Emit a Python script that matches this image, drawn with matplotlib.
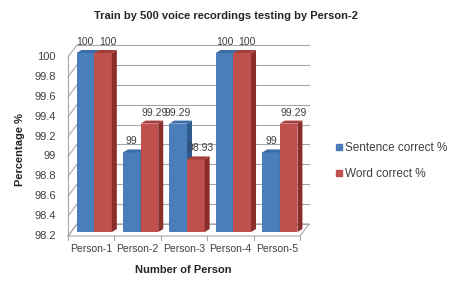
import matplotlib
matplotlib.use("Agg")
import matplotlib.pyplot as plt
from matplotlib.patches import Polygon
from matplotlib.lines import Line2D
import numpy as np

categories = ["Person-1", "Person-2", "Person-3", "Person-4", "Person-5"]
sentence = [100, 99, 99.29, 100, 99]
word = [100, 99.29, 98.93, 100, 99.29]
series_names = ["Sentence correct %", "Word correct %"]
yticks = [98.2, 98.4, 98.6, 98.8, 99, 99.2, 99.4, 99.6, 99.8, 100]
ytick_labels = ["98.2", "98.4", "98.6", "98.8", "99", "99.2", "99.4", "99.6", "99.8", "100"]
title = "Train by 500 voice recordings testing by Person-2"
xlabel = "Number of Person"
ylabel = "Percentage %"

FONT = ["Liberation Sans", "DejaVu Sans"]
plt.rcParams["font.family"] = FONT

W, H = 451, 285
fig = plt.figure(figsize=(W / 100, H / 100), dpi=100)
ax_l, ax_r, ax_t, ax_b = 68, 300, 53, 232  # pixel box of the bar scale
ax = fig.add_axes([ax_l / W, 1 - ax_b / H, (ax_r - ax_l) / W, (ax_b - ax_t) / H])
x0, x1 = -0.5, 4.5
y0, y1 = 98.2, 100
ax.set_xlim(x0, x1)
ax.set_ylim(y0, y1)
ax.axis("off")

pxx = (ax_r - ax_l) / (x1 - x0)
pxy = (ax_b - ax_t) / (y1 - y0)


def off(x, y, dx, dy):
    return (x + dx / pxx, y + dy / pxy)


grid_c = "#a6a6a6"
front = (0, -4)
back = (9, 8)

floor = Polygon([off(x0, y0, *front), off(x1, y0, *front), off(x1, y0, *back), off(x0, y0, *back)],
                closed=True, facecolor="white", edgecolor=grid_c, lw=0.8, clip_on=False, zorder=1)
ax.add_patch(floor)

for v in yticks:
    a = off(x0, v, *back)
    b = off(x1, v, *back)
    ax.plot([a[0], b[0]], [a[1], b[1]], color=grid_c, lw=0.8, clip_on=False, zorder=1)
    f = off(x0, v, *front)
    ax.plot([f[0], a[0]], [f[1], a[1]], color=grid_c, lw=0.8, clip_on=False, zorder=1)
fa = off(x0, y0, *front)
fb = off(x0, y1, *front)
ax.plot([fa[0], fb[0]], [fa[1], fb[1]], color=grid_c, lw=0.8, clip_on=False, zorder=1)

for k in range(len(categories) + 1):
    p = off(x0 + k, y0, *front)
    q = off(x0 + k, y0, 0, -8)
    ax.plot([p[0], q[0]], [p[1], q[1]], color=grid_c, lw=0.8, clip_on=False, zorder=1)

for v, lab in zip(yticks, ytick_labels):
    p = off(x0, v, -12, -4)
    ax.text(p[0], p[1], lab, ha="right", va="center", fontsize=8, color="#404040")

for i, lab in enumerate(categories):
    p = off(i, y0, 0, -12)
    ax.text(p[0], p[1], lab, ha="center", va="top", fontsize=7.5, color="#404040")

bw = 0.38
shift = 3 / pxx
ddx, ddy = 5, 3
colors = [("#4A7EBB", "#2E5A8E", "#3A6CA8"), ("#C0504D", "#8A2E2C", "#A43E3B")]
label_dx = [0, 5]
for i in range(len(categories)):
    for s, (vals, (cf, cs, ct)) in enumerate(zip([sentence, word], colors)):
        left = i + shift + (s - 1) * bw
        h = vals[i]
        ax.bar(left, h - y0, bottom=y0, width=bw, align="edge", color=cf, zorder=3 + 3 * s, clip_on=False)
        r = left + bw
        side = Polygon([(r, y0), (r, h), off(r, h, ddx, ddy), off(r, y0, ddx, ddy)],
                       closed=True, facecolor=cs, edgecolor="none", zorder=3 + 3 * s + 1, clip_on=False)
        top = Polygon([(left, h), (r, h), off(r, h, ddx, ddy), off(left, h, ddx, ddy)],
                      closed=True, facecolor=ct, edgecolor="none", zorder=3 + 3 * s + 1, clip_on=False)
        ax.add_patch(side)
        ax.add_patch(top)
        lp = off(left + bw / 2, h, label_dx[s], 6)
        ax.text(lp[0], lp[1], f"{h:g}", ha="center", va="bottom", fontsize=7.5, color="#404040", zorder=20)

fig.text(226 / W, 1 - 16 / H, title, ha="center", va="center", fontsize=8, fontweight="bold", color="#262626")
fig.text(183 / W, 1 - 270 / H, xlabel, ha="center", va="center", fontsize=8, fontweight="bold", color="#262626")
fig.text(20 / W, 1 - 150 / H, ylabel, ha="center", va="center", rotation=90, fontsize=8, fontweight="bold", color="#262626")

handles = [Line2D([], [], marker="s", linestyle="none", markersize=5, color=c[0]) for c in colors]
fig.legend(handles, series_names, loc="center left", bbox_to_anchor=(328 / W, 1 - 161 / H), frameon=False,
           fontsize=8.5, handletextpad=0.1, labelspacing=1.2, handlelength=0.8, borderpad=0, labelcolor="#404040")

fig.savefig("out.png", dpi=100)
